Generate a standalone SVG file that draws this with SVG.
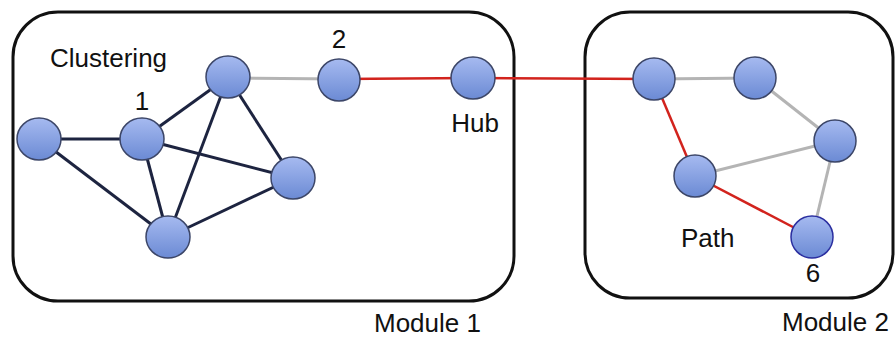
<svg xmlns="http://www.w3.org/2000/svg" width="896" height="339" viewBox="0 0 896 339">
  <style>
    .module { fill: none; stroke: #111; stroke-width: 3; }
    .label { font-family: "Liberation Sans", Arial, sans-serif; font-size: 26px; fill: #111; }
    .node { fill: url(#nodeFill); stroke: #3c4668; stroke-width: 1.5; }
    .node.end { stroke: #2b2fa0; }
    .e-dark { stroke: #1d2440; stroke-width: 3; }
    .e-grey { stroke: #b4b4b4; stroke-width: 3; }
    .e-red { stroke: #d2231d; stroke-width: 2.5; }
  </style>
  <defs>
    <linearGradient id="nodeFill" x1="0" y1="0" x2="0" y2="1">
      <stop offset="0" stop-color="#a6baf0"/>
      <stop offset="1" stop-color="#6b8ad4"/>
    </linearGradient>
  </defs>
  <rect width="896" height="339" fill="#fff"/>

  <!-- module frames -->
  <g id="module1">
    <rect class="module" x="13" y="12" width="501" height="289" rx="45" ry="45"/>
    <text class="label" x="374" y="332">Module 1</text>
  </g>
  <g id="module2">
    <rect class="module" x="585" y="12" width="308" height="286" rx="45" ry="45"/>
    <text class="label" x="782" y="331">Module 2</text>
  </g>

  <!-- connectors -->
  <g id="edges">
    <line class="e-dark" x1="39" y1="139" x2="142" y2="139"/>
    <line class="e-dark" x1="39" y1="139" x2="168" y2="237"/>
    <line class="e-dark" x1="142" y1="139" x2="228" y2="77"/>
    <line class="e-dark" x1="142" y1="139" x2="293" y2="178"/>
    <line class="e-dark" x1="142" y1="139" x2="168" y2="237"/>
    <line class="e-dark" x1="228" y1="77" x2="168" y2="237"/>
    <line class="e-dark" x1="228" y1="77" x2="293" y2="178"/>
    <line class="e-dark" x1="168" y1="237" x2="293" y2="178"/>
    <line class="e-grey" x1="228" y1="78" x2="339" y2="79"/>
    <line class="e-red" x1="339" y1="79" x2="473" y2="78"/>
    <line class="e-red" x1="473" y1="78" x2="654" y2="79"/>
    <line class="e-red" x1="654" y1="79" x2="695" y2="176"/>
    <line class="e-red" x1="695" y1="176" x2="812" y2="237"/>
    <line class="e-grey" x1="654" y1="79" x2="755" y2="78"/>
    <line class="e-grey" x1="755" y1="78" x2="835" y2="141"/>
    <line class="e-grey" x1="835" y1="141" x2="695" y2="176"/>
    <line class="e-grey" x1="835" y1="141" x2="812" y2="237"/>
  </g>

  <!-- module 1 nodes -->
  <g id="n-left"><ellipse class="node" cx="39" cy="139" rx="22" ry="21"/></g>
  <g id="n-1">
    <ellipse class="node" cx="142" cy="139" rx="22" ry="21"/>
    <text class="label" x="142" y="110" text-anchor="middle">1</text>
  </g>
  <g id="n-top">
    <ellipse class="node" cx="228" cy="77" rx="22" ry="21"/>
    <text class="label" x="50" y="67">Clustering</text>
  </g>
  <g id="n-right"><ellipse class="node" cx="293" cy="178" rx="22" ry="21"/></g>
  <g id="n-bottom"><ellipse class="node" cx="168" cy="237" rx="22" ry="21"/></g>
  <g id="n-2">
    <ellipse class="node" cx="339" cy="80" rx="21" ry="21"/>
    <text class="label" x="339" y="48" text-anchor="middle">2</text>
  </g>
  <g id="n-hub">
    <ellipse class="node" cx="473" cy="78" rx="22" ry="21"/>
    <text class="label" x="475" y="132" text-anchor="middle">Hub</text>
  </g>

  <!-- module 2 nodes -->
  <g id="n-a"><ellipse class="node" cx="654" cy="79" rx="21" ry="21"/></g>
  <g id="n-b"><ellipse class="node" cx="755" cy="78" rx="21" ry="21"/></g>
  <g id="n-c"><ellipse class="node" cx="835" cy="141" rx="21" ry="21"/></g>
  <g id="n-d">
    <ellipse class="node" cx="695" cy="176" rx="21" ry="21"/>
    <text class="label" x="681" y="247">Path</text>
  </g>
  <g id="n-6">
    <ellipse class="node end" cx="812" cy="237" rx="21" ry="21"/>
    <text class="label" x="813" y="282" text-anchor="middle">6</text>
  </g>
</svg>
